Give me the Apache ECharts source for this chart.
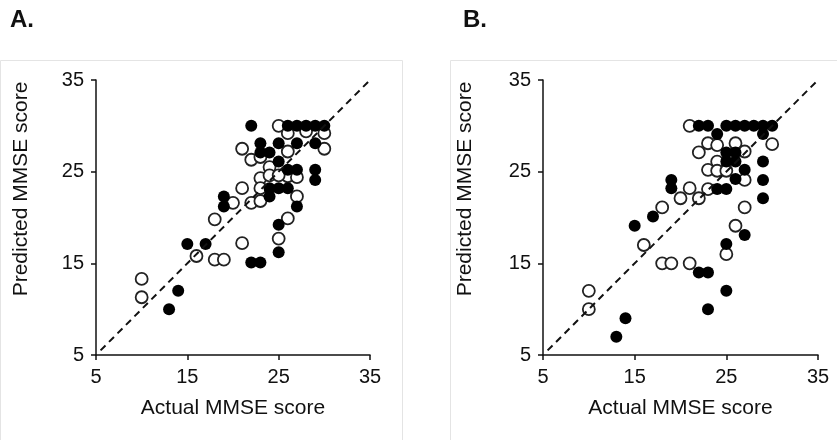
<!DOCTYPE html>
<html>
<head>
<meta charset="utf-8">
<script src="https://cdn.jsdelivr.net/npm/echarts@6/dist/echarts.min.js"></script>
<style>
    html, body { margin: 0; padding: 0; background: #fff; }
    #chart { width: 837px; height: 440px; }
</style>
</head>
<body>
<div id="chart"></div>
<script>
// 坐标轴刻度
const axisTicks = [5, 15, 25, 35];

// 参考线 y = x
const refLine = [[5.5, 5.5], [35, 35]];

// 图 A：空心点 [实际值, 预测值]
const aOpen = [
    [25, 30], [26, 29.2], [28, 29.4], [30, 29.2], [21, 27.5], [30, 27.5], [26, 27.2],
    [22, 26.3], [23, 26.6], [24, 25.5], [26, 24.5], [27, 24.4], [23, 24.3], [24, 24.6],
    [25, 24.6], [21, 23.2], [23, 23.2], [20, 21.6], [22, 21.6], [23, 21.8], [27, 22.3],
    [26, 19.9], [18, 19.8], [25, 17.7], [21, 17.2], [16, 15.8], [18, 15.4], [19, 15.4],
    [10, 13.3], [10, 11.3]
];
// 图 A：实心点
const aFilled = [
    [22, 30], [26, 30], [27, 30], [28, 30], [29, 30], [30, 30], [23, 28.1], [25, 28.1],
    [27, 28.1], [29, 28.1], [23, 27.1], [24, 27.1], [25, 26.1], [26, 25.2], [27, 25.2],
    [29, 25.2], [29, 24.1], [24, 23.2], [25, 23.2], [26, 23.2], [24, 22.3], [19, 22.3],
    [19, 21.2], [27, 21.2], [25, 19.2], [15, 17.1], [17, 17.1], [22, 15.1], [23, 15.1],
    [25, 16.2], [14, 12], [13, 10]
];

// 图 B：空心点
const bOpen = [
    [21, 30], [23, 28.1], [24, 27.9], [26, 28.1], [30, 28], [22, 27.1], [27, 27.2],
    [24, 26.1], [23, 25.2], [24, 25.1], [25, 25.1], [27, 24.1], [21, 23.2], [23, 23.1],
    [20, 22.1], [22, 22.1], [18, 21.1], [27, 21.1], [26, 19.1], [16, 17], [25, 16],
    [18, 15], [19, 15], [21, 15], [10, 12], [10, 10]
];
// 图 B：实心点
const bFilled = [
    [22, 30], [23, 30], [25, 30], [26, 30], [27, 30], [28, 30], [29, 30], [30, 30],
    [24, 29.1], [29, 29.1], [25, 27.1], [26, 27.1], [25, 26.1], [26, 26.1], [27, 25.2],
    [26, 24.2], [29, 26.1], [29, 24.1], [29, 22.1], [19, 24.1], [19, 23.2], [24, 23.1],
    [25, 23.1], [17, 20.1], [15, 19.1], [27, 18.1], [25, 17.1], [22, 14], [23, 14],
    [25, 12], [23, 10], [14, 9], [13, 7]
];

const FONT = '"Liberation Sans", Arial, sans-serif';

document.addEventListener('DOMContentLoaded', () => {
    const myChart = echarts.init(document.getElementById('chart'));

    // 通用坐标轴
    const makeAxis = (gridIndex, isX) => ({
        type: 'value',
        gridIndex: gridIndex,
        min: axisTicks[0],
        max: axisTicks[axisTicks.length - 1],
        interval: 10,
        name: isX ? 'Actual MMSE score' : '',
        nameLocation: 'middle',
        nameGap: 43,
        nameTextStyle: { fontFamily: FONT, fontSize: 21, color: '#111' },
        axisLine: { show: true, onZero: false, lineStyle: { color: '#111', width: 1.5 } },
        axisTick: { show: true, inside: false, length: 5, lineStyle: { color: '#111', width: 1.5 } },
        axisLabel: { fontFamily: FONT, fontSize: 20, color: '#111', margin: 12 },
        splitLine: { show: false }
    });

    const openStyle = { color: '#fff', borderColor: '#222', borderWidth: 1.8, opacity: 1 };
    const filledStyle = { color: '#000', opacity: 1 };

    const makeSeries = (idx, openData, filledData) => [
        {
            type: 'line', xAxisIndex: idx, yAxisIndex: idx, data: refLine,
            symbol: 'none', silent: true,
            lineStyle: { color: '#111', width: 2, type: [7, 5] }
        },
        {
            type: 'scatter', xAxisIndex: idx, yAxisIndex: idx, data: openData,
            symbolSize: 12, itemStyle: openStyle
        },
        {
            type: 'scatter', xAxisIndex: idx, yAxisIndex: idx, data: filledData,
            symbolSize: 12, itemStyle: filledStyle
        }
    ];

    const yTitle = (x) => ({
        type: 'text', x: x, y: 189, rotation: Math.PI / 2,
        style: {
            text: 'Predicted MMSE score', fontFamily: FONT, fontSize: 21, fill: '#111',
            align: 'center', verticalAlign: 'middle'
        }
    });

    const option = {
        backgroundColor: '#fff',
        animation: false,
        grid: [
            { left: 96, top: 80, width: 274, height: 275 },
            { left: 543, top: 80, width: 275, height: 275 }
        ],
        xAxis: [makeAxis(0, true), makeAxis(1, true)],
        yAxis: [makeAxis(0, false), makeAxis(1, false)],
        series: [...makeSeries(0, aOpen, aFilled), ...makeSeries(1, bOpen, bFilled)],
        graphic: [
            // 面板边框
            { type: 'rect', shape: { x: 0.5, y: 60.5, width: 402, height: 380 },
              style: { fill: 'none', stroke: '#e4e4e4', lineWidth: 1 }, z: -1 },
            { type: 'rect', shape: { x: 450.5, y: 60.5, width: 390, height: 380 },
              style: { fill: 'none', stroke: '#e4e4e4', lineWidth: 1 }, z: -1 },
            // 面板标号
            { type: 'text', x: 10, y: 8,
              style: { text: 'A.', fontFamily: FONT, fontSize: 24, fontWeight: 'bold', fill: '#111' } },
            { type: 'text', x: 463, y: 8,
              style: { text: 'B.', fontFamily: FONT, fontSize: 24, fontWeight: 'bold', fill: '#111' } },
            yTitle(21),
            yTitle(465)
        ]
    };

    myChart.setOption(option);
});
</script>
</body>
</html>
